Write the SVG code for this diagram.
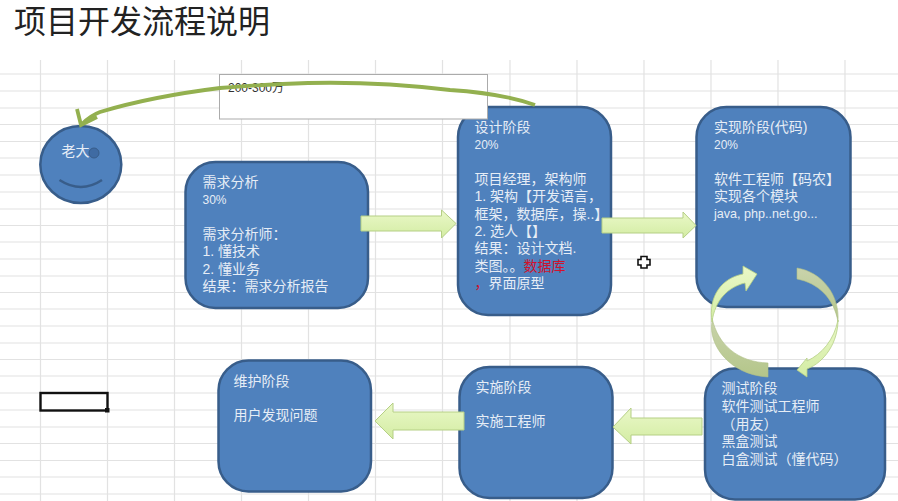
<svg xmlns="http://www.w3.org/2000/svg" width="898" height="501" viewBox="0 0 898 501">
<defs>
<linearGradient id="ag" x1="0" y1="0" x2="0" y2="1"><stop offset="0" stop-color="#eaf8c8"/><stop offset="1" stop-color="#d3eca3"/></linearGradient>
<linearGradient id="dk" x1="0" y1="0" x2="0" y2="1"><stop offset="0" stop-color="#c9d3ab"/><stop offset="1" stop-color="#b4c68a"/></linearGradient>
</defs>
<style>
text{font-family:"Liberation Sans","Noto Sans CJK SC",sans-serif}
.grid line{stroke:#e2e2e2;stroke-width:1.2}
.box{fill:#4f81bd;stroke:#385d8a;stroke-width:2.5}
.t{font-size:14px;fill:#e6edf6}
.n{font-size:12px}
.arr{fill:url(#ag);stroke:#b5cf85;stroke-width:1}
.red{fill:#d0122c}
.big{fill:none;stroke:#93b04f;stroke-width:3.8}
</style>
<rect width="898" height="501" fill="#fff"/>
<text x="14" y="33" font-size="32" fill="#222">项目开发流程说明</text>
<g class="grid">
<line x1="40.5" y1="60" x2="40.5" y2="501"/><line x1="107.5" y1="60" x2="107.5" y2="501"/><line x1="174.5" y1="60" x2="174.5" y2="501"/><line x1="241.5" y1="60" x2="241.5" y2="501"/><line x1="308.5" y1="60" x2="308.5" y2="501"/><line x1="375.5" y1="60" x2="375.5" y2="501"/><line x1="442.5" y1="60" x2="442.5" y2="501"/><line x1="510" y1="60" x2="510" y2="501"/><line x1="577" y1="60" x2="577" y2="501"/><line x1="644" y1="60" x2="644" y2="501"/><line x1="711" y1="60" x2="711" y2="501"/><line x1="778" y1="60" x2="778" y2="501"/><line x1="845" y1="60" x2="845" y2="501"/>
<line x1="0" y1="74" x2="898" y2="74"/><line x1="0" y1="91" x2="898" y2="91"/><line x1="0" y1="108" x2="898" y2="108"/><line x1="0" y1="124.5" x2="898" y2="124.5"/><line x1="0" y1="141.5" x2="898" y2="141.5"/><line x1="0" y1="158" x2="898" y2="158"/><line x1="0" y1="175" x2="898" y2="175"/><line x1="0" y1="192" x2="898" y2="192"/><line x1="0" y1="209" x2="898" y2="209"/><line x1="0" y1="225.5" x2="898" y2="225.5"/><line x1="0" y1="242" x2="898" y2="242"/><line x1="0" y1="259" x2="898" y2="259"/><line x1="0" y1="276" x2="898" y2="276"/><line x1="0" y1="292.5" x2="898" y2="292.5"/><line x1="0" y1="309" x2="898" y2="309"/><line x1="0" y1="326" x2="898" y2="326"/><line x1="0" y1="343" x2="898" y2="343"/><line x1="0" y1="359.5" x2="898" y2="359.5"/><line x1="0" y1="376" x2="898" y2="376"/><line x1="0" y1="393" x2="898" y2="393"/><line x1="0" y1="410" x2="898" y2="410"/><line x1="0" y1="427" x2="898" y2="427"/><line x1="0" y1="443.5" x2="898" y2="443.5"/><line x1="0" y1="460.5" x2="898" y2="460.5"/><line x1="0" y1="477" x2="898" y2="477"/><line x1="0" y1="494" x2="898" y2="494"/>
</g>
<g id="selected-cell"><rect x="40.5" y="393" width="67" height="17.5" fill="#fff" stroke="#111" stroke-width="2.4"/><rect x="105" y="408" width="4.5" height="4.5" fill="#111"/></g>
<g id="boss">
<ellipse class="box" cx="80.8" cy="164.5" rx="40.5" ry="38.5"/>
<circle cx="94" cy="153" r="5" fill="#3f6ba3" stroke="#385d8a"/>
<path d="M59.5 180Q81 194 102 180" fill="none" stroke="#385d8a" stroke-width="2.5"/>
<text class="t" x="61.5" y="156">老大</text>
</g>
<g id="requirements">
<rect class="box" x="185.5" y="162" width="182.5" height="146" rx="30"/>
<text class="t" x="202.5" y="187">需求分析</text><text class="t n" x="202.5" y="204">30%</text><text class="t" x="202.5" y="239">需求分析师：</text><text class="t" x="202.5" y="256">1. 懂技术</text><text class="t" x="202.5" y="273.5">2. 懂业务</text><text class="t" x="202.5" y="291">结果：需求分析报告</text>
</g>
<g id="design">
<rect class="box" x="458" y="107" width="153" height="208" rx="30"/>
</g>
<g id="budget-note">
<rect x="219.5" y="74.5" width="268" height="44.5" fill="#fff" stroke="#ababab"/>
<text x="228" y="92" font-size="12" fill="#333">200-300万</text>
</g>
<g id="design-text">
<text class="t" x="474.5" y="132">设计阶段</text><text class="t n" x="474.5" y="149">20%</text><text class="t" x="474.5" y="184">项目经理，架构师</text><text class="t" x="474.5" y="201">1. 架构【开发语言，</text><text class="t" x="474.5" y="218.5">框架，数据库，操..】</text><text class="t" x="474.5" y="236">2. 选人【】</text><text class="t" x="474.5" y="253">结果：设计文档.</text><text class="t" x="474.5" y="270.5">类图。。<tspan class="red">数据库</tspan></text><text class="t" x="474.5" y="288"><tspan class="red">，</tspan>界面原型</text>
</g>
<g id="implementation">
<rect class="box" x="696.5" y="107" width="154" height="200" rx="30"/>
<text class="t" x="714" y="132">实现阶段(代码)</text><text class="t n" x="714" y="149">20%</text><text class="t" x="714" y="184">软件工程师【码农】</text><text class="t" x="714" y="201">实现各个模块</text><text class="t" font-size="12.6" style="font-size:12.6px" x="714" y="218">java, php..net.go...</text>
</g>
<g id="testing">
<rect class="box" x="705" y="368.5" width="180" height="131" rx="30"/>
<text class="t" x="721.5" y="393">测试阶段</text><text class="t" x="721.5" y="411">软件测试工程师</text><text class="t" x="721.5" y="428.5">（用友）</text><text class="t" x="721.5" y="446">黑盒测试</text><text class="t" x="721.5" y="464">白盒测试（懂代码）</text>
</g>
<g id="deployment">
<rect class="box" x="459.5" y="367" width="153" height="131" rx="30"/>
<text class="t" x="475.5" y="392">实施阶段</text><text class="t" x="475.5" y="426">实施工程师</text>
</g>
<g id="maintenance">
<rect class="box" x="218.5" y="360.5" width="152.5" height="131" rx="30"/>
<text class="t" x="233.5" y="386">维护阶段</text><text class="t" x="233.5" y="420">用户发现问题</text>
</g>
<g id="connectors">
<path class="arr" d="M361 216H441.5V210L456 223.5L441.5 238V231H361Z"/>
<path class="arr" d="M602 218H683V212L696 225.5L683 238V233H602Z"/>
<path class="arr" d="M702 418H631V408L613 427L631 444V435H702Z"/>
<path class="arr" d="M464 412H393V403L375 421L393 439V430H464Z"/>
<path class="big" d="M535 105C510 96 480 92 450 90C400 84 350 82 308 83C270 84 245 86 220 88C180 93 133 102 100 112C92 115 86 120 82 124"/>
<path class="big" d="M77 109L81 125L97 117"/>
<path d="M712 322C708 345 730 375 768 377L768 363C738 362 718 345 712 318Z" fill="url(#dk)" stroke="#aebf86" stroke-width="0.6"/>
<path d="M712 322C708 296 722 278 743 274L743 266L757 274L746 291L745 283C728 287 715 300 712 322Z" fill="url(#ag)" stroke="#b5cf85" stroke-width="0.8"/>
<path d="M797 268C822 272 840 295 838 322C834 298 818 283 797 279Z" fill="url(#dk)" stroke="#aebf86" stroke-width="0.6"/>
<path d="M838 320C838 342 825 362 807 369L807 377L797 370L807 358L807 361C822 354 834 340 838 320Z" fill="url(#ag)" stroke="#b5cf85" stroke-width="0.8"/>
</g>
<path id="cursor" d="M641 256.5H647V259.5H650V265H647V268H641V265H638V259.5H641Z" fill="#fff" stroke="#111" stroke-width="1.6"/>
</svg>
